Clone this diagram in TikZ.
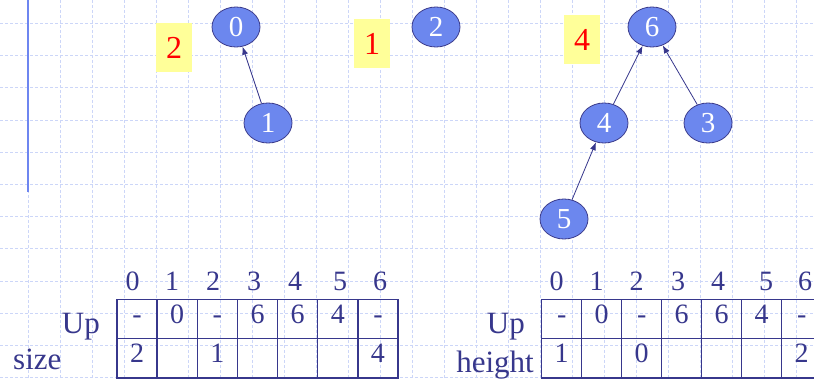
\documentclass[tikz,border=0pt]{standalone}
\usepackage{fontspec}
\setmainfont{Liberation Serif}
\usetikzlibrary{shapes.geometric,arrows.meta}
\definecolor{gridc}{RGB}{204,214,248}
\definecolor{nodefill}{RGB}{108,135,238}
\definecolor{nodeedge}{RGB}{60,60,140}
\definecolor{navy}{RGB}{55,55,140}
\definecolor{yel}{RGB}{255,255,153}
\definecolor{barc}{RGB}{110,134,240}
\begin{document}
\begin{tikzpicture}[x=1pt,y=-1pt,
 gridline/.style={draw=gridc, line width=0.7pt, dash pattern=on 3pt off 2pt},
 vert/.style={ellipse, draw=nodeedge, line width=0.8pt, fill=nodefill, minimum width=48pt, minimum height=40pt, inner sep=0pt, text=white, font=\fontsize{29}{29}\selectfont},
 tag/.style={fill=yel, minimum width=36pt, minimum height=49pt, inner sep=0pt, text=red, font=\fontsize{32}{32}\selectfont},
 cell/.style={draw=navy, line width=1.3pt, minimum width=40pt, minimum height=39.4pt, inner sep=0pt, text=navy, font=\fontsize{28}{28}\selectfont, text height=0.85em, text depth=0pt},
 hdr/.style={anchor=base, text=navy, font=\fontsize{28}{28}\selectfont, inner sep=0pt},
 lbl/.style={text=navy, font=\fontsize{31}{31}\selectfont, inner sep=0pt},
 edge/.style={-{Latex[length=8pt,width=6pt]}, draw=navy, line width=0.8pt}
]
\useasboundingbox (0,0) rectangle (814,379);
\clip (0,0) rectangle (814,379);
\fill[white] (0,0) rectangle (814,379);
% background grid
\foreach \i in {0,...,24} \draw[gridline] (28+32.03*\i,0) -- (28+32.03*\i,379);
\foreach \j in {0,...,11} \draw[gridline] (0,23.3+32.2*\j) -- (814,23.3+32.2*\j);
% left bar
\draw[barc, line width=2.5pt] (28,0) -- (28,192);
% yellow tags
\node[tag] (t2) at (174,47.5) {2};
\node[tag] (t1) at (372,43.5) {1};
\node[tag] (t4) at (582,39.5) {4};
% vertices
\node[vert] (n0) at (236,27) {0};
\node[vert] (n1) at (268,123) {1};
\node[vert] (n2) at (436,27) {2};
\node[vert] (n6) at (652,27) {6};
\node[vert] (n4) at (604,123) {4};
\node[vert] (n3) at (708,123) {3};
\node[vert] (n5) at (564,219) {5};
% edges
\draw[edge] (n1) -- (n0);
\draw[edge] (n4) -- (n6);
\draw[edge] (n3) -- (n6);
\draw[edge] (n5) -- (n4);
% left table
\foreach \x [count=\c from 0] in {132.7,172,213,254,295,340,380}
  \node[hdr] (lh\c) at (\x,290.7) {\c};
\foreach \v [count=\c from 0] in {-,0,-,6,6,4,-}
  \node[cell] (lu\c) at (137.1+40.14*\c,319) {\v};
\foreach \v [count=\c from 0] in {2,{},1,{},{},{},4}
  \node[cell] (ls\c) at (137.1+40.14*\c,358.4) {\v};
\node[lbl, anchor=base east] (lup) at (100,334) {Up};
\node[lbl, anchor=base west] (lsize) at (13,370) {size};
% right table
\foreach \x [count=\c from 0] in {556.7,596.7,636.7,678,718,766,805}
  \node[hdr] (rh\c) at (\x,290.7) {\c};
\foreach \v [count=\c from 0] in {-,0,-,6,6,4,-}
  \node[cell] (ru\c) at (561.7+40*\c,319) {\v};
\foreach \v [count=\c from 0] in {1,{},0,{},{},{},2}
  \node[cell] (rs\c) at (561.7+40*\c,358.4) {\v};
\node[lbl, anchor=base east] (rup) at (525,334) {Up};
\node[lbl, anchor=base east] (rheight) at (534,372.5) {height};
\end{tikzpicture}
\end{document}
